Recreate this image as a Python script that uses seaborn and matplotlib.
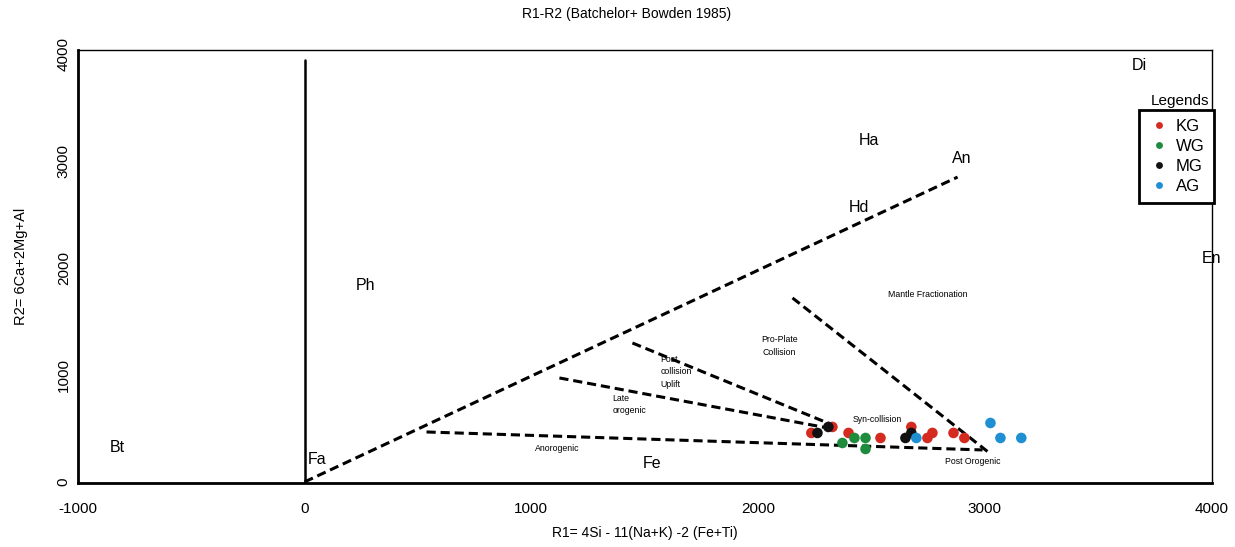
import matplotlib
matplotlib.use("Agg")
import matplotlib.pyplot as plt
import seaborn as sns
import pandas as pd

# ---- data ----
kg_r1 = [2235, 2328, 2399, 2540, 2676, 2747, 2769, 2862, 2910]
kg_r2 = [458, 514, 458, 411, 514, 411, 458, 458, 411]
wg_r1 = [2372, 2425, 2474, 2474]
wg_r2 = [364, 411, 411, 308]
mg_r1 = [2262, 2310, 2650, 2676]
mg_r2 = [458, 514, 411, 458]
ag_r1 = [2698, 3025, 3069, 3161]
ag_r2 = [411, 551, 411, 411]
groups = ["KG", "WG", "MG", "AG"]
colors = ["#d42a20", "#1e8c3c", "#111111", "#1e8fd2"]

# boundary lines (R1, R2 endpoints)
line_main_x = [0, 2880]
line_main_y = [0, 2850]
line_mantle_x = [2152, 3020]
line_mantle_y = [1720, 271]
line_post_x = [1446, 2328]
line_post_y = [1299, 533]
line_late_x = [1124, 2306]
line_late_y = [972, 505]
line_anor_x = [538, 2990]
line_anor_y = [467, 299]
vert_x = [0, 0]
vert_y = [0, 3940]

big_labels = ["Di", "Ha", "An", "Hd", "En", "Ph", "Bt", "Fa", "Fe"]
big_x = [3680, 2491, 2897, 2447, 4000, 269, -824, 57, 1534]
big_y = [3897, 3196, 3028, 2570, 2093, 1832, 318, 206, 168]

small_labels = ["Mantle Fractionation", "Pro-Plate\nCollision", "Post\ncollision\nUplift",
                "Late\norogenic", "Anorogenic", "Syn-collision", "Post Orogenic"]
small_x = [2747, 2094, 1570, 1358, 1115, 2525, 2945]
small_y = [1748, 1271, 1028, 720, 308, 585, 195]
small_ha = ["center", "center", "left", "left", "center", "center", "center"]

x_ticks = [-1000, 0, 1000, 2000, 3000, 4000]
y_ticks = [0, 1000, 2000, 3000, 4000]

rows = []
for g, xs, ys in zip(groups, [kg_r1, wg_r1, mg_r1, ag_r1], [kg_r2, wg_r2, mg_r2, ag_r2]):
    for a, b in zip(xs, ys):
        rows.append({"R1": a, "R2": b, "group": g})
df = pd.DataFrame(rows)

sns.set_theme(style="white")
plt.rcParams["font.family"] = ["Liberation Sans", "DejaVu Sans"]
plt.rcParams["text.color"] = "black"
plt.rcParams["axes.labelcolor"] = "black"
plt.rcParams["xtick.color"] = "black"
plt.rcParams["ytick.color"] = "black"

fig = plt.figure(figsize=(12.35, 5.47), dpi=100)
ax = fig.add_axes([0.063, 0.117, 0.918, 0.792])

lw = 2.2
dash = (3, 1.6)
for xs, ys in [(line_main_x, line_main_y), (line_mantle_x, line_mantle_y),
               (line_post_x, line_post_y), (line_late_x, line_late_y),
               (line_anor_x, line_anor_y)]:
    ax.plot(xs, ys, color="black", lw=lw, linestyle=(0, dash))
ax.plot(vert_x, vert_y, color="black", lw=1.8)

sns.scatterplot(data=df, x="R1", y="R2", hue="group", hue_order=groups,
                palette=colors, s=58, edgecolor=None, linewidth=0, ax=ax, zorder=5,
                legend=True)

for t, x, y in zip(big_labels, big_x, big_y):
    ax.text(x, y, t, fontsize=11.5, ha="center", va="center")
for t, x, y, h in zip(small_labels, small_x, small_y, small_ha):
    ax.text(x, y, t, fontsize=6.3, ha=h, va="center", linespacing=1.45)

ax.set_xlim(-1000, 4000)
ax.set_ylim(-10, 4040)
ax.set_xticks(x_ticks)
ax.set_yticks(y_ticks)
ax.set_xticklabels([str(v) for v in x_ticks], fontsize=11)
ax.set_yticklabels([str(v) for v in y_ticks], fontsize=11, rotation=90, va="center")
ax.tick_params(axis="x", length=0, pad=14)
ax.tick_params(axis="y", length=0, pad=5)
ax.set_xlabel("R1= 4Si - 11(Na+K) -2 (Fe+Ti)", fontsize=10, labelpad=7)
ax.set_ylabel("R2= 6Ca+2Mg+Al", fontsize=10.5, labelpad=21)
fig.text(627 / 1235, 0.975, "R1-R2 (Batchelor+ Bowden 1985)", fontsize=10,
         ha="center", va="center")

for side in ["top", "right"]:
    ax.spines[side].set_linewidth(1.0)
    ax.spines[side].set_color("black")
for side in ["left", "bottom"]:
    ax.spines[side].set_linewidth(2.0)
    ax.spines[side].set_color("black")

leg = ax.legend(loc="upper right", bbox_to_anchor=(1.002, 0.862), frameon=True,
                fontsize=12, markerscale=0.65, handletextpad=0.35, borderpad=0.55,
                labelspacing=0.3, handlelength=1.3, fancybox=False, borderaxespad=0,
                framealpha=1)
leg.get_frame().set_edgecolor("black")
leg.get_frame().set_linewidth(2.0)
ax.text(3860, 3560, "Legends", fontsize=11, ha="center", va="center")

fig.savefig("out.png", dpi=100)
